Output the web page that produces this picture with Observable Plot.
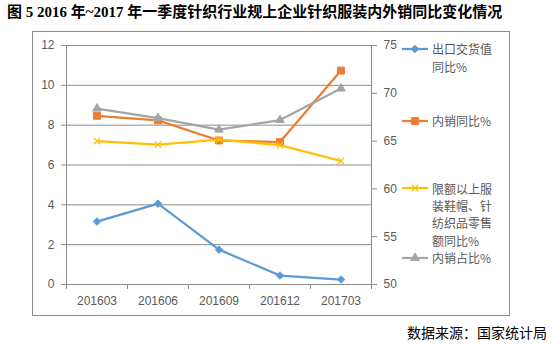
<!DOCTYPE html>
<html><head><meta charset="utf-8">
<script src="https://cdn.jsdelivr.net/npm/d3@7"></script>
<script src="https://cdn.jsdelivr.net/npm/@observablehq/plot@0.6"></script>
<style>
body{margin:0;background:#fff;}
#wrap{position:relative;width:555px;height:345px;overflow:hidden;font-family:"Noto Sans CJK SC",sans-serif;}
#frame{position:absolute;left:32px;top:31px;width:478px;height:285px;border:1px solid #8c8c8c;box-sizing:border-box;}
#title{position:absolute;left:7px;top:2px;font-weight:bold;font-size:15px;font-family:"Liberation Serif","Noto Sans CJK SC",serif;white-space:nowrap;line-height:20px;color:#000;}
#chart{position:absolute;left:0;top:0;}
.leg{position:absolute;left:402px;font-size:12px;color:#595959;line-height:18px;white-space:nowrap;}
.leg svg{position:absolute;left:0;}
.leg span{position:absolute;left:30px;top:0;}
#caption{position:absolute;left:407px;top:322px;font-size:14px;color:#000;line-height:20px;white-space:nowrap;}
</style></head>
<body>
<div id="wrap">
  <div id="frame"></div>
  <div id="chart"></div>
  <div id="title">图 5 2016 年~2017 年一季度针织行业规上企业针织服装内外销同比变化情况</div>
  <div id="legend"></div>
  <div id="caption">数据来源：国家统计局</div>
</div>
<script>
const periods = ["201603","201606","201609","201612","201703"];
const exportYoY = [3.16, 4.06, 1.75, 0.45, 0.25];
const domesticYoY = [8.47, 8.24, 7.23, 7.15, 10.74];
const retailYoY = [7.2, 7.02, 7.27, 7.0, 6.2];
const domesticShare = [68.4, 67.4, 66.2, 67.2, 70.5];
const leftTicks = [0, 2, 4, 6, 8, 10, 12];
const rightTicks = [50, 55, 60, 65, 70, 75];
const seriesNames = ["出口交货值\n同比%", "内销同比%", "限额以上服\n装鞋帽、针\n纺织品零售\n额同比%", "内销占比%"];
const colors = ["#5B9BD5", "#ED7D31", "#FFC000", "#A5A5A5"];

const L0 = leftTicks[0], L1 = leftTicks[leftTicks.length-1];
const R0 = rightTicks[0], R1 = rightTicks[rightTicks.length-1];
const toLeft = v => L0 + (v - R0) * (L1 - L0) / (R1 - R0);
const fromLeft = v => R0 + (v - L0) * (R1 - R0) / (L1 - L0);

const rows = periods.map((p, i) => ({
  i, p, x: i + 0.5,
  exp: exportYoY[i], dom: domesticYoY[i], ret: retailYoY[i], share: toLeft(domesticShare[i])
}));

const grid = "#8c8c8c";
const txt = "#595959";
const font = "Liberation Sans, Arial, sans-serif";

const series = [
  {key: "exp", symbol: "diamond2", r: 3.4, fill: colors[0]},
  {key: "dom", symbol: "square", r: 3.9, fill: colors[1]},
  {key: "ret", symbol: "times", r: 3, fill: "none"},
  {key: "share", symbol: "triangle", r: 3.2, fill: colors[3]}
];

const marks = [
  Plot.ruleY(leftTicks.slice(1, -1), {stroke: grid, strokeWidth: 1}),
  Plot.frame({stroke: grid}),
  Plot.axisY({ticks: leftTicks, tickSize: 5, tickPadding: 7, stroke: grid, color: txt, fontSize: 12, fontFamily: font, label: null}),
  Plot.axisY({anchor: "right", ticks: rightTicks.map(toLeft), tickFormat: d => Math.round(fromLeft(d)), tickSize: 5, tickPadding: 7, stroke: grid, color: txt, fontSize: 12, fontFamily: font, label: null}),
  Plot.axisX({ticks: d3.range(periods.length + 1), tickFormat: () => "", tickSize: 5, stroke: grid, label: null}),
  Plot.axisX({ticks: rows.map(d => d.x), tickFormat: v => periods[Math.floor(v)], tickSize: 0, tickPadding: 12, color: txt, fontSize: 12, fontFamily: font, label: null})
];
series.forEach((s, k) => {
  marks.push(Plot.line(rows, {x: "x", y: s.key, stroke: colors[k], strokeWidth: 2.25}));
  marks.push(Plot.dot(rows, {x: "x", y: s.key, symbol: () => s.symbol, r: s.r, fill: s.fill, stroke: colors[k], strokeWidth: s.key === "ret" ? 1.3 : 1}));
});

const chart = Plot.plot({
  width: 555, height: 345,
  marginLeft: 66, marginRight: 184, marginTop: 45, marginBottom: 61,
  x: {type: "linear", domain: [0, periods.length]},
  y: {domain: [L0, L1]},
  symbol: {type: "identity"},
  style: {background: "transparent", overflow: "visible"},
  marks
});
document.getElementById("chart").appendChild(chart);

// legend
const legTops = [40, 112, 179.5, 249.4];
const legLineH = [18, 18, 17.4, 17.4];
const legSymbols = [d3.symbolDiamond2, d3.symbolSquare, d3.symbolTimes, d3.symbolTriangle];
const legSizes = [36, 48, 28, 32];
const legend = document.getElementById("legend");
seriesNames.forEach((name, k) => {
  const div = document.createElement("div");
  div.className = "leg";
  div.style.top = legTops[k] + "px";
  div.style.lineHeight = legLineH[k] + "px";
  const path = d3.symbol(legSymbols[k], legSizes[k])();
  const isStroke = k === 2;
  div.innerHTML = `<svg width="28" height="10" style="top:${legLineH[k] / 2 - 5}px"><line x1="0" x2="26" y1="5" y2="5" stroke="${colors[k]}" stroke-width="2.25"/><path transform="translate(13,5)" d="${path}" fill="${isStroke ? "none" : colors[k]}" stroke="${colors[k]}" stroke-width="${isStroke ? 1.3 : 1}"/></svg><span>${name.split("\n").join("<br>")}</span>`;
  legend.appendChild(div);
});
</script>
</body></html>
